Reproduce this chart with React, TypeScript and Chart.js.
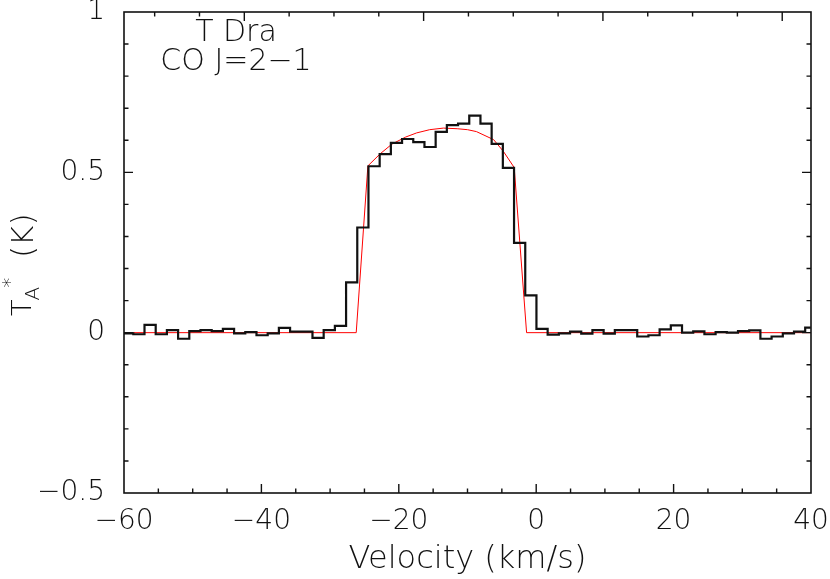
import React, { useEffect, useRef } from "react";
import { Chart, registerables } from "chart.js";

Chart.register(...registerables);

// Channel centres (km/s) and antenna temperature (K) of the observed spectrum
const CHANNEL_VELOCITY = [
  -61.09, -59.46, -57.83, -56.2, -54.57, -52.94, -51.31, -49.68, -48.05, -46.42,
  -44.79, -43.16, -41.53, -39.9, -38.27, -36.64, -35.01, -33.38, -31.75, -30.12,
  -28.49, -26.86, -25.23, -23.6, -21.97, -20.34, -18.71, -17.08, -15.45, -13.82,
  -12.19, -10.56, -8.93, -7.3, -5.67, -4.04, -2.41, -0.78, 0.85, 2.48,
  4.11, 5.74, 7.37, 9.0, 10.63, 12.26, 13.89, 15.52, 17.15, 18.78,
  20.41, 22.04, 23.67, 25.3, 26.93, 28.56, 30.19, 31.82, 33.45, 35.08,
  36.71, 38.34, 39.97,
];
const CHANNEL_TA = [
  0.0, -0.002, -0.005, 0.024, -0.005, 0.008, -0.019, 0.005, 0.008, 0.005,
  0.012, -0.002, 0.002, -0.008, -0.002, 0.015, 0.003, 0.003, -0.016, 0.008,
  0.021, 0.157, 0.328, 0.519, 0.557, 0.592, 0.604, 0.594, 0.579, 0.626,
  0.647, 0.652, 0.677, 0.652, 0.589, 0.514, 0.28, 0.116, 0.012, -0.006,
  -0.002, 0.003, -0.003, 0.008, -0.003, 0.008, 0.008, -0.012, -0.008, 0.01,
  0.023, 0.0, 0.004, -0.005, 0.002, 0.0, 0.005, 0.007, -0.019, -0.012,
  -0.002, 0.003, 0.016,
];

// Shell-profile fit (red)
const FIT_VELOCITY = [-60, -26.2, -24.5, -22.7, -21.0, -19.0, -17.4, -15.5, -13.5, -11.5, -10.0, -8.7, -6.2, -4.8, -3.2, -1.4, 40];
const FIT_TA = [0, 0, 0.52, 0.558, 0.588, 0.61, 0.623, 0.633, 0.638, 0.636, 0.633, 0.627, 0.602, 0.566, 0.515, 0, 0];

// Axes
const X_MIN = -60;
const X_MAX = 40;
const X_MAJOR = 20;
const X_MINOR = 5;
const Y_MIN = -0.5;
const Y_MAX = 1;
const Y_MAJOR = 0.5;
const Y_MINOR = 0.1;
// Top axis (frequency offset, MHz), ticks only
const TOP_MIN = -13.42;
const TOP_MAX = 63.21;
const TOP_MAJOR = 20;
const TOP_MINOR = 5;

const SOURCE_LABEL = "T Dra";
const LINE_LABEL = "CO J=2\u22121";
const X_TITLE = "Velocity (km/s)";

const FONT_FAMILY = "'DejaVu Sans', sans-serif";
const TEXT_COLOR = "#111";
const LINE_COLOR = "#111";

const minus = (s: string) => s.replace("-", "\u2212");

const framePlugin = {
  id: "frameTicks",
  afterDatasetsDraw(chart: any) {
    const { ctx, chartArea: a, scales } = chart;
    const xs = scales.x;
    const ys = scales.y;
    const MAJ = 9;
    const MIN = 4.5;
    ctx.save();
    ctx.strokeStyle = LINE_COLOR;
    ctx.lineWidth = 1.6;
    ctx.strokeRect(a.left, a.top, a.right - a.left, a.bottom - a.top);
    ctx.lineWidth = 1.4;
    ctx.beginPath();
    // bottom axis ticks
    const nx = Math.round((X_MAX - X_MIN) / X_MINOR);
    for (let i = 1; i < nx; i++) {
      const v = X_MIN + i * X_MINOR;
      const major = Math.abs(Math.round(v / X_MAJOR) * X_MAJOR - v) < 1e-6;
      const px = xs.getPixelForValue(v);
      ctx.moveTo(px, a.bottom);
      ctx.lineTo(px, a.bottom - (major ? MAJ : MIN));
    }
    // top axis ticks
    const f0 = Math.ceil(TOP_MIN / TOP_MINOR) * TOP_MINOR;
    for (let f = f0; f < TOP_MAX; f += TOP_MINOR) {
      const major = Math.abs(Math.round(f / TOP_MAJOR) * TOP_MAJOR - f) < 1e-6;
      const px = a.left + ((f - TOP_MIN) / (TOP_MAX - TOP_MIN)) * (a.right - a.left);
      ctx.moveTo(px, a.top);
      ctx.lineTo(px, a.top + (major ? MAJ : MIN));
    }
    // left / right ticks
    const ny = Math.round((Y_MAX - Y_MIN) / Y_MINOR);
    for (let i = 1; i < ny; i++) {
      const v = Y_MIN + i * Y_MINOR;
      const major = Math.abs(Math.round(v / Y_MAJOR) * Y_MAJOR - v) < 1e-6;
      const py = ys.getPixelForValue(v);
      ctx.moveTo(a.left, py);
      ctx.lineTo(a.left + (major ? MAJ : MIN), py);
      ctx.moveTo(a.right, py);
      ctx.lineTo(a.right - (major ? MAJ : MIN), py);
    }
    ctx.stroke();

    // annotation text
    ctx.fillStyle = TEXT_COLOR;
    ctx.font = `200 30px ${FONT_FAMILY}`;
    ctx.textAlign = "center";
    ctx.textBaseline = "middle";
    const cx = a.left + 112;
    ctx.fillText(SOURCE_LABEL, cx, a.top + 21);
    ctx.fillText(LINE_LABEL, cx, a.top + 50);

    // y-axis title: T_A^* (K)
    ctx.translate(31, 316);
    ctx.rotate(-Math.PI / 2);
    ctx.textAlign = "left";
    ctx.textBaseline = "alphabetic";
    ctx.font = `200 27px ${FONT_FAMILY}`;
    ctx.fillText("T", 0, 0);
    const tw = ctx.measureText("T").width;
    ctx.font = `200 20px ${FONT_FAMILY}`;
    ctx.fillText("A", tw - 1, 8);
    const aw = ctx.measureText("A").width;
    ctx.fillText("*", tw + aw - 2, -15);
    ctx.font = `200 31px ${FONT_FAMILY}`;
    ctx.fillText("(K)", 58, 2);
    ctx.restore();
  },
};

export default function App() {
  const canvasRef = useRef<HTMLCanvasElement | null>(null);

  useEffect(() => {
    if (!canvasRef.current) return;
    const hist = CHANNEL_VELOCITY.map((v, i) => ({ x: v, y: CHANNEL_TA[i] }));
    const fit = FIT_VELOCITY.map((v, i) => ({ x: v, y: FIT_TA[i] }));
    const tickFont = { family: FONT_FAMILY, size: 28, weight: 200 as any };
    const titleFont = { family: FONT_FAMILY, size: 32, weight: 200 as any };
    const chart = new Chart(canvasRef.current, {
      type: "line",
      data: {
        datasets: [
          {
            data: fit,
            borderColor: "rgb(255,0,0)",
            borderWidth: 1,
            pointRadius: 0,
            tension: 0,
            order: 2,
          },
          {
            data: hist,
            stepped: "middle",
            borderColor: LINE_COLOR,
            borderWidth: 2.2,
            pointRadius: 0,
            order: 1,
          },
        ],
      },
      options: {
        responsive: false,
        animation: false,
        layout: { padding: { top: 12, right: 19, left: 0, bottom: 0 } },
        plugins: { legend: { display: false }, tooltip: { enabled: false } },
        scales: {
          x: {
            type: "linear",
            min: X_MIN,
            max: X_MAX,
            grid: { display: false, drawTicks: false },
            border: { display: false },
            ticks: {
              stepSize: X_MAJOR,
              font: tickFont,
              color: TEXT_COLOR,
              padding: 12,
              maxRotation: 0,
              callback: (v: any) => minus(String(v)),
            },
            title: {
              display: true,
              text: X_TITLE,
              font: titleFont,
              color: TEXT_COLOR,
              padding: { top: 0, bottom: 0 },
            },
            afterFit: (s: any) => {
              s.height = 86;
              s.paddingLeft = 0;
              s.paddingRight = 0;
            },
          },
          y: {
            type: "linear",
            min: Y_MIN,
            max: Y_MAX,
            grid: { display: false, drawTicks: false },
            border: { display: false },
            ticks: {
              stepSize: Y_MAJOR,
              font: tickFont,
              color: TEXT_COLOR,
              padding: 19,
              callback: (v: any) => minus(String(v)),
            },
            afterFit: (s: any) => {
              s.width = 124;
              s.paddingTop = 0;
              s.paddingBottom = 0;
            },
          },
        },
      },
      plugins: [framePlugin],
    });
    return () => chart.destroy();
  }, []);

  return (
    <div style={{ position: "absolute", left: 0, top: 0, width: 830, height: 579, background: "#fff" }}>
      <canvas ref={canvasRef} width={830} height={579} style={{ display: "block" }} />
    </div>
  );
}
